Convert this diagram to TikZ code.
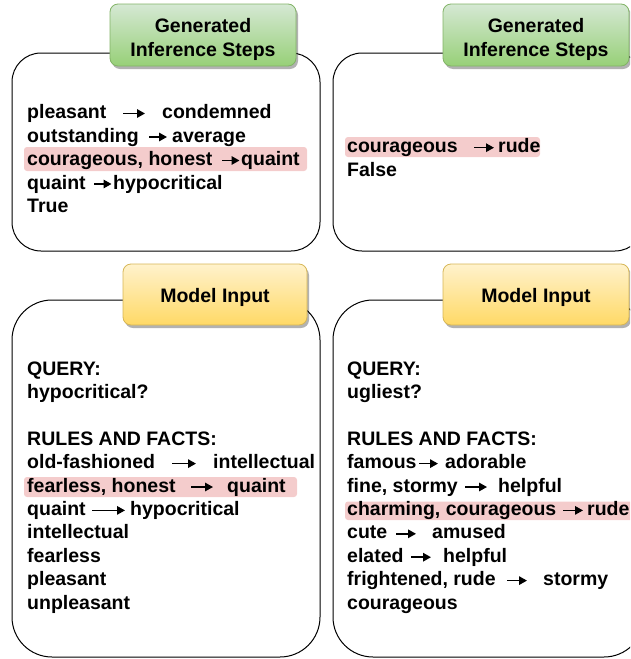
\documentclass[tikz,border=0pt]{standalone}
\usepackage{fontspec}
\setmainfont{Liberation Sans}
\usetikzlibrary{arrows.meta,shadows}
\definecolor{hl}{HTML}{F4CCCC}
\definecolor{gtop}{HTML}{D5E8D4}
\definecolor{gbot}{HTML}{97D077}
\definecolor{gline}{HTML}{82B366}
\definecolor{ytop}{HTML}{FFF2CC}
\definecolor{ybot}{HTML}{FFD966}
\definecolor{yline}{HTML}{D6B656}
\begin{document}
\begin{tikzpicture}[x=1pt,y=-1pt,
  panel/.style={draw=black,line width=1pt},
  wd/.style={anchor=base west,inner sep=0pt,text height=14pt,text depth=4pt,
    font=\fontsize{19.5}{23.4}\selectfont\bfseries},
  hlbox/.style={fill=hl,rounded corners=3pt},
  tarr/.style={line width=1.5pt,-{Triangle[length=8pt,width=8.5pt]}},
  lab/.style={rounded corners=8pt,minimum width=186pt,minimum height=62pt,
    align=center,inner sep=0pt,line width=0.8pt,
    font=\fontsize{19.5}{24}\selectfont\bfseries,
    drop shadow={shadow xshift=2pt,shadow yshift=-3pt,opacity=0.3,fill=black}},
  glab/.style={lab,draw=gline,top color=gtop,bottom color=gbot},
  ylab/.style={lab,draw=yline,top color=ytop,bottom color=ybot}]
\useasboundingbox (0,0) rectangle (630,659);
\clip (0,0) rectangle (630,659);

% panels
\draw[panel,rounded corners=29pt] (12,53) rectangle (320,251);
\draw[panel,rounded corners=29pt] (333,53) rectangle (644,251);
\draw[panel,rounded corners=40pt] (12,300) rectangle (320,657);
\draw[panel,rounded corners=40pt] (333,300) rectangle (644,657);

% labels
\node[glab] (g1) at (203,35) {\rule{0pt}{23pt}Generated\\Inference Steps};
\node[glab] (g2) at (536,35) {\rule{0pt}{23pt}Generated\\Inference Steps};
\node[ylab,minimum width=184pt,minimum height=61pt] (y1) at (215,294.5) {\rule{0pt}{20pt}Model Input};
\node[ylab,minimum height=61pt] (y2) at (536,294.5) {\rule{0pt}{20pt}Model Input};

% highlights
\fill[hlbox] (24,147) rectangle (307,171);
\fill[hlbox] (345,137) rectangle (540,157);
\fill[hlbox] (24,477) rectangle (297,497);
\fill[hlbox] (345,501.5) rectangle (640,520);

% top-left
\node[wd] (ta1) at (27,118.5) {pleasant};
\node[wd] (tb1) at (162,118.5) {condemned};
\draw[tarr] ([xshift=-39pt]tb1.west) -- ([xshift=-17pt]tb1.west);
\node[wd] (ta2) at (27,142) {outstanding};
\node[wd] (tb2) at (172,142) {average};
\draw[tarr] ([xshift=-23pt]tb2.west) -- ([xshift=-5pt]tb2.west);
\node[wd] (ta3) at (27,165.5) {courageous, honest};
\node[wd] (tb3) at (241,165.5) {quaint};
\draw[tarr] ([xshift=-19pt]tb3.west) -- ([xshift=-1.5pt]tb3.west);
\node[wd] (ta4) at (27,189) {quaint};
\node[wd] (tb4) at (113,189) {hypocritical};
\draw[tarr] ([xshift=-19pt]tb4.west) -- ([xshift=-1.5pt]tb4.west);
\node[wd] (ta5) at (27,212.5) {True};

% top-right
\node[wd] (ra1) at (347,152.7) {courageous};
\node[wd] (rb1) at (498,152.7) {rude};
\draw[tarr] ([xshift=-24pt]rb1.west) -- ([xshift=-4pt]rb1.west);
\node[wd] (ra2) at (347,176.1) {False};

% bottom-left
\node[wd] (bq) at (27,375) {QUERY:};
\node[wd] (bq2) at (27,398.4) {hypocritical?};
\node[wd] (br) at (27,445.2) {RULES AND FACTS:};
\node[wd] (ba1) at (27,468.6) {old-fashioned};
\node[wd] (bb1) at (213,468.6) {intellectual};
\draw[tarr] ([xshift=-41pt]bb1.west) -- ([xshift=-17pt]bb1.west);
\node[wd] (ba2) at (27,492) {fearless, honest};
\node[wd] (bb2) at (227,492) {quaint};
\draw[tarr] ([xshift=-36pt]bb2.west) -- ([xshift=-14pt]bb2.west);
\node[wd] (ba3) at (27,515.4) {quaint};
\node[wd] (bb3) at (130,515.4) {hypocritical};
\draw[tarr] ([xshift=-38pt]bb3.west) -- ([xshift=-5pt]bb3.west);
\node[wd] (ba4) at (27,538.8) {intellectual};
\node[wd] (ba5) at (27,562.2) {fearless};
\node[wd] (ba6) at (27,585.6) {pleasant};
\node[wd] (ba7) at (27,609) {unpleasant};

% bottom-right
\node[wd] (cq) at (347,375) {QUERY:};
\node[wd] (cq2) at (347,398.4) {ugliest?};
\node[wd] (cr) at (347,445.2) {RULES AND FACTS:};
\node[wd] (ca1) at (347,468.6) {famous};
\node[wd] (cb1) at (445,468.6) {adorable};
\draw[tarr] ([xshift=-26pt]cb1.west) -- ([xshift=-7pt]cb1.west);
\node[wd] (ca2) at (347,492) {fine, stormy};
\node[wd] (cb2) at (498,492) {helpful};
\draw[tarr] ([xshift=-33pt]cb2.west) -- ([xshift=-11pt]cb2.west);
\node[wd] (ca3) at (347,515.4) {charming, courageous};
\node[wd] (cb3) at (587,515.4) {rude};
\draw[tarr] ([xshift=-24pt]cb3.west) -- ([xshift=-4pt]cb3.west);
\node[wd] (ca4) at (347,538.8) {cute};
\node[wd] (cb4) at (432,538.8) {amused};
\draw[tarr] ([xshift=-36pt]cb4.west) -- ([xshift=-16pt]cb4.west);
\node[wd] (ca5) at (347,562.2) {elated};
\node[wd] (cb5) at (443,562.2) {helpful};
\draw[tarr] ([xshift=-32pt]cb5.west) -- ([xshift=-12pt]cb5.west);
\node[wd] (ca6) at (347,585.6) {frightened, rude};
\node[wd] (cb6) at (543,585.6) {stormy};
\draw[tarr] ([xshift=-36pt]cb6.west) -- ([xshift=-16pt]cb6.west);
\node[wd] (ca7) at (347,609) {courageous};
\end{tikzpicture}
\end{document}
